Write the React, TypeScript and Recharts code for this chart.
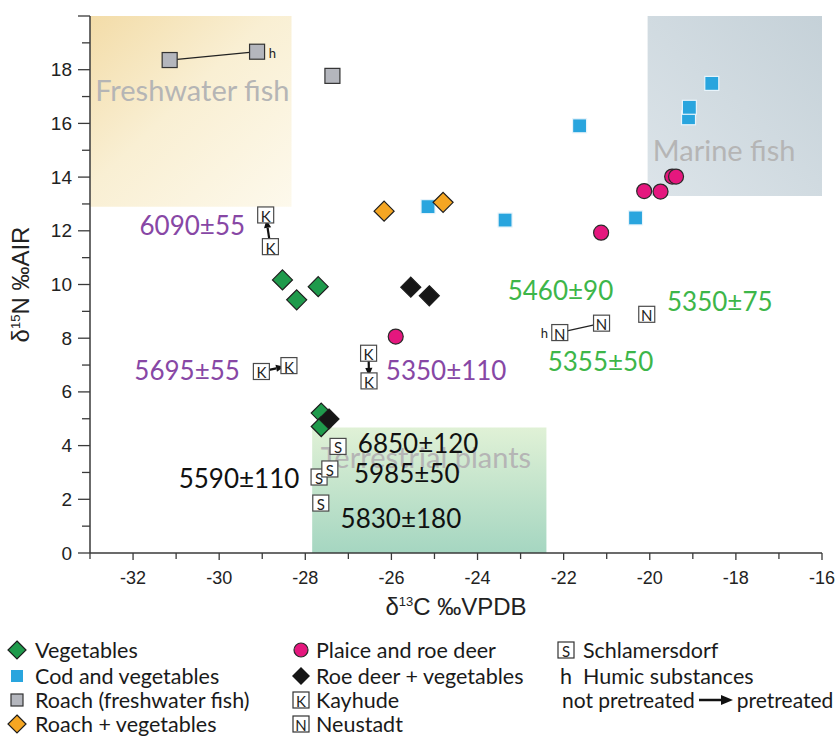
import React from "react";
import {
  ScatterChart,
  Scatter,
  XAxis,
  YAxis,
  ReferenceArea,
  ReferenceLine,
} from "recharts";

type Pt = { x: number; y: number };
type Note = { x: number; y: number; text: string };

// axis ticks (every unit, labels on even values)
const xTicks = [-33, -32, -31, -30, -29, -28, -27, -26, -25, -24, -23, -22, -21, -20, -19, -18, -17, -16];
const yTicks = [0, 1, 2, 3, 4, 5, 6, 7, 8, 9, 10, 11, 12, 13, 14, 15, 16, 17, 18, 19, 20];

// series, d13C (x) vs d15N (y)
const vegetables: Pt[] = [
  { x: -28.53, y: 10.17 },
  { x: -28.2, y: 9.43 },
  { x: -27.7, y: 9.92 },
  { x: -27.63, y: 5.21 },
  { x: -27.63, y: 4.71 },
];
const codVegetables: Pt[] = [
  { x: -25.15, y: 12.9 },
  { x: -23.36, y: 12.4 },
  { x: -21.63, y: 15.91 },
  { x: -20.33, y: 12.48 },
  { x: -19.1, y: 16.21 },
  { x: -19.08, y: 16.6 },
  { x: -18.56, y: 17.49 },
];
const roach: Pt[] = [
  { x: -31.15, y: 18.36 },
  { x: -29.12, y: 18.67 },
  { x: -27.37, y: 17.77 },
];
const roachVegetables: Pt[] = [
  { x: -26.17, y: 12.73 },
  { x: -24.8, y: 13.06 },
];
const plaiceRoeDeer: Pt[] = [
  { x: -25.9, y: 8.06 },
  { x: -21.13, y: 11.93 },
  { x: -20.13, y: 13.48 },
  { x: -19.75, y: 13.46 },
  { x: -19.48, y: 14.02 },
  { x: -19.39, y: 14.02 },
];
const roeDeerVegetables: Pt[] = [
  { x: -25.55, y: 9.9 },
  { x: -25.12, y: 9.58 },
  { x: -27.45, y: 4.99 },
];
const kayhude: Pt[] = [
  { x: -28.92, y: 12.59 },
  { x: -28.81, y: 11.41 },
  { x: -29.02, y: 6.76 },
  { x: -28.38, y: 6.98 },
  { x: -26.53, y: 7.44 },
  { x: -26.52, y: 6.41 },
];
const neustadt: Pt[] = [
  { x: -22.09, y: 8.21 },
  { x: -21.12, y: 8.56 },
  { x: -20.07, y: 8.89 },
];
const schlamersdorf: Pt[] = [
  { x: -27.68, y: 2.83 },
  { x: -27.43, y: 3.13 },
  { x: -27.24, y: 3.97 },
  { x: -27.64, y: 1.86 },
];

// connections
const humicLinks: [Pt, Pt][] = [
  [roach[0], roach[1]],
  [neustadt[0], neustadt[1]],
];
const pretreatArrows: [Pt, Pt][] = [
  [kayhude[1], kayhude[0]],
  [kayhude[2], kayhude[3]],
  [kayhude[4], kayhude[5]],
];

// shaded zones
const freshwaterX = [-33, -28.32];
const freshwaterY = [12.9, 20];
const marineX = [-20.05, -16];
const marineY = [13.3, 20];
const terrestrialX = [-27.84, -22.4];
const terrestrialY = [0, 4.67];

// text annotations (x = left edge, y = middle)
const zoneNotes: Note[] = [
  { x: -32.88, y: 17.28, text: "Freshwater fish" },
  { x: -19.93, y: 15.04, text: "Marine fish" },
  { x: -27.64, y: 3.58, text: "Terrestrial plants" },
];
const datesKayhude: Note[] = [
  { x: -31.85, y: 12.22, text: "6090±55" },
  { x: -31.97, y: 6.82, text: "5695±55" },
  { x: -26.13, y: 6.81, text: "5350±110" },
];
const datesNeustadt: Note[] = [
  { x: -23.3, y: 9.81, text: "5460±90" },
  { x: -19.6, y: 9.38, text: "5350±75" },
  { x: -22.37, y: 7.15, text: "5355±50" },
];
const datesSchlamersdorf: Note[] = [
  { x: -26.78, y: 4.08, text: "6850±120" },
  { x: -26.87, y: 2.98, text: "5985±50" },
  { x: -27.18, y: 1.31, text: "5830±180" },
  { x: -30.94, y: 2.78, text: "5590±110" },
];
const humicNotes: Note[] = [
  { x: -28.85, y: 18.62, text: "h" },
  { x: -22.53, y: 8.2, text: "h" },
];

const legendCol1 = ["Vegetables", "Cod and vegetables", "Roach (freshwater fish)", "Roach + vegetables"];
const legendCol2 = ["Plaice and roe deer", "Roe deer + vegetables", "Kayhude", "Neustadt"];
const legendCol3 = ["Schlamersdorf", "Humic substances"];

const AXIS = "#3a3a3a";
const GREEN = "#1f9a4c";
const BLUE = "#29a5de";
const GREY = "#b4b6bd";
const ORANGE = "#f5a623";
const PINK = "#e5177e";
const BLACK = "#161616";
const PURPLE = "#8747a5";
const DATE_GREEN = "#3db649";
const TEXT_FONT = "Lato, 'Open Sans', sans-serif";
const TICK_FONT = "'Liberation Sans', Arial, sans-serif";

const diamond = (fill: string, r = 10) => (p: any) => (
  <polygon
    points={`${p.cx},${p.cy - r} ${p.cx + r},${p.cy} ${p.cx},${p.cy + r} ${p.cx - r},${p.cy}`}
    fill={fill}
    stroke="#1d1d1d"
    strokeWidth={1.2}
  />
);
const square = (fill: string, size: number, stroke: string) => (p: any) => (
  <rect x={p.cx - size / 2} y={p.cy - size / 2} width={size} height={size} fill={fill} stroke={stroke} strokeWidth={1.2} />
);
const circle = (p: any) => <circle cx={p.cx} cy={p.cy} r={7.5} fill={PINK} stroke="#2a2a2a" strokeWidth={1.2} />;
const letterBox = (letter: string) => (p: any) => (
  <g>
    <rect x={p.cx - 8} y={p.cy - 8} width={16} height={16} fill="#fff" stroke="#4a4a4a" strokeWidth={1.2} />
    <text x={p.cx} y={p.cy + 1} textAnchor="middle" dominantBaseline="central" fontSize={15} fontFamily={TEXT_FONT} fill="#222">
      {letter}
    </text>
  </g>
);
const noteShape = (color: string, size: number) => (p: any) => (
  <text x={p.cx} y={p.cy} dominantBaseline="central" fontSize={size} fontFamily={TEXT_FONT} fill={color}>
    {p.payload.text}
  </text>
);

const linkShape = (trimStart: number, trimEnd: number, arrow: boolean) => (p: any) => {
  const { x1, y1, x2, y2 } = p;
  const dx = x2 - x1;
  const dy = y2 - y1;
  const len = Math.hypot(dx, dy) || 1;
  const ux = dx / len;
  const uy = dy / len;
  const sx = x1 + ux * trimStart;
  const sy = y1 + uy * trimStart;
  const ex = x2 - ux * trimEnd;
  const ey = y2 - uy * trimEnd;
  if (!arrow) {
    return <line x1={sx} y1={sy} x2={ex} y2={ey} stroke="#222" strokeWidth={1.2} />;
  }
  const hl = 8;
  const hw = 3.6;
  const bx = ex - ux * hl;
  const by = ey - uy * hl;
  return (
    <g>
      <line x1={sx} y1={sy} x2={bx} y2={by} stroke="#111" strokeWidth={2.2} />
      <polygon points={`${ex},${ey} ${bx - uy * hw},${by + ux * hw} ${bx + uy * hw},${by - ux * hw}`} fill="#111" />
    </g>
  );
};

const BottomTick = (p: any) => {
  const v = p.payload.value;
  const major = v % 2 === 0;
  return (
    <g>
      <line x1={p.x} y1={p.y} x2={p.x} y2={p.y + (major ? 7 : 6)} stroke={AXIS} strokeWidth={1.3} />
      {major && v > -33 && (
        <text x={p.x} y={p.y + 25} textAnchor="middle" dominantBaseline="central" fontSize={18} fontFamily={TICK_FONT} fill="#222">
          {v}
        </text>
      )}
    </g>
  );
};
const LeftTick = (p: any) => {
  const v = p.payload.value;
  const major = v % 2 === 0;
  return (
    <g>
      <line x1={p.x - (major ? 12 : 8)} y1={p.y} x2={p.x} y2={p.y} stroke={AXIS} strokeWidth={1.3} />
      {major && v < 20 && (
        <text x={p.x - 18} y={p.y} textAnchor="end" dominantBaseline="central" fontSize={19} fontFamily={TICK_FONT} fill="#222">
          {v}
        </text>
      )}
    </g>
  );
};
const TopTick = (p: any) => <line x1={p.x} y1={p.y} x2={p.x} y2={p.y + 9} stroke={AXIS} strokeWidth={1.3} />;
const RightTick = (p: any) => <line x1={p.x - 9} y1={p.y} x2={p.x} y2={p.y} stroke={AXIS} strokeWidth={1.3} />;

const XTitle = (p: any) => {
  const vb = p.viewBox;
  return (
    <text x={vb.x + vb.width / 2} y={vb.y + 62} textAnchor="middle" fontSize={24} fontFamily={TICK_FONT} fill="#222">
      δ<tspan fontSize={13} dy={-9}>13</tspan>
      <tspan dy={9}>C ‰VPDB</tspan>
    </text>
  );
};
const YTitle = (p: any) => {
  const vb = p.viewBox;
  const cx = 29;
  const cy = vb.y + vb.height / 2;
  return (
    <text x={cx} y={cy} transform={`rotate(-90 ${cx} ${cy})`} textAnchor="middle" fontSize={24} fontFamily={TICK_FONT} fill="#222">
      δ<tspan fontSize={13} dy={-9}>15</tspan>
      <tspan dy={9}>N ‰AIR</tspan>
    </text>
  );
};

const ROWS = [650, 676, 700, 724];
const LEGEND_TEXT: React.CSSProperties = {
  position: "absolute",
  height: 22,
  lineHeight: "22px",
  fontSize: 21.5,
  whiteSpace: "nowrap",
  color: "#1a1a1a",
};

const LegendIcon = ({ kind }: { kind: string }) => {
  const s = 20;
  const c = s / 2;
  let el: React.ReactNode = null;
  if (kind === "veg") el = <polygon points={`${c},1 ${s - 1},${c} ${c},${s - 1} 1,${c}`} fill={GREEN} stroke="#1d1d1d" strokeWidth={1.2} />;
  if (kind === "cod") el = <rect x={4} y={4} width={12} height={12} fill={BLUE} />;
  if (kind === "roach") el = <rect x={4} y={4} width={12} height={12} fill={GREY} stroke="#333" strokeWidth={1.2} />;
  if (kind === "roachveg") el = <polygon points={`${c},1 ${s - 1},${c} ${c},${s - 1} 1,${c}`} fill={ORANGE} stroke="#1d1d1d" strokeWidth={1.2} />;
  if (kind === "plaice") el = <circle cx={c} cy={c} r={7} fill={PINK} stroke="#2a2a2a" strokeWidth={1.2} />;
  if (kind === "roe") el = <polygon points={`${c},1 ${s - 1},${c} ${c},${s - 1} 1,${c}`} fill={BLACK} />;
  if (kind === "K" || kind === "N" || kind === "S")
    el = (
      <g>
        <rect x={2} y={2} width={16} height={16} fill="#fff" stroke="#333" strokeWidth={1.2} />
        <text x={c} y={c + 1} textAnchor="middle" dominantBaseline="central" fontSize={15} fontFamily={TEXT_FONT} fill="#222">
          {kind}
        </text>
      </g>
    );
  return (
    <svg width={s} height={s} style={{ display: "block" }}>
      {el}
    </svg>
  );
};

const LegendItem = ({ iconX, textX, y, kind, label }: { iconX: number; textX: number; y: number; kind: string; label: string }) => (
  <>
    <div style={{ position: "absolute", left: iconX - 10, top: y - 10 }}>
      <LegendIcon kind={kind} />
    </div>
    <div style={{ ...LEGEND_TEXT, left: textX, top: y - 11 }}>{label}</div>
  </>
);

export default function App() {
  return (
    <div style={{ position: "absolute", left: 0, top: 0, width: 838, height: 736, background: "#fff", fontFamily: TEXT_FONT, overflow: "hidden" }}>
      <ScatterChart width={838} height={640} margin={{ top: 16, right: 16, bottom: 25, left: 0 }}>
        <defs>
          <linearGradient id="freshGrad" x1="0" y1="0" x2="1" y2="1">
            <stop offset="0%" stopColor="#f3dca8" />
            <stop offset="45%" stopColor="#f9efd3" />
            <stop offset="100%" stopColor="#fdf9ec" />
          </linearGradient>
          <linearGradient id="marineGrad" x1="0" y1="1" x2="1" y2="0">
            <stop offset="0%" stopColor="#dce4e9" />
            <stop offset="100%" stopColor="#c5d1d8" />
          </linearGradient>
          <linearGradient id="plantGrad" x1="0" y1="0" x2="0" y2="1">
            <stop offset="0%" stopColor="#e0f1d6" />
            <stop offset="100%" stopColor="#a5d6c1" />
          </linearGradient>
        </defs>

        <XAxis
          xAxisId={0}
          dataKey="x"
          type="number"
          domain={[-33, -16]}
          allowDataOverflow
          ticks={xTicks}
          interval={0}
          tickSize={0}
          tickMargin={0}
          tickLine={false}
          tick={BottomTick}
          axisLine={{ stroke: AXIS, strokeWidth: 1.5 }}
          height={62}
          label={XTitle}
        />
        <XAxis
          xAxisId="top"
          orientation="top"
          type="number"
          domain={[-33, -16]}
          allowDataOverflow
          ticks={xTicks}
          interval={0}
          tickSize={0}
          tickMargin={0}
          tickLine={false}
          tick={TopTick}
          axisLine={{ stroke: AXIS, strokeWidth: 1.5 }}
          height={0}
        />
        <YAxis
          yAxisId={0}
          dataKey="y"
          type="number"
          domain={[0, 20]}
          allowDataOverflow
          ticks={yTicks}
          interval={0}
          tickSize={0}
          tickMargin={0}
          tickLine={false}
          tick={LeftTick}
          axisLine={{ stroke: AXIS, strokeWidth: 1.5 }}
          width={90}
          label={YTitle}
        />
        <YAxis
          yAxisId="right"
          orientation="right"
          type="number"
          domain={[0, 20]}
          allowDataOverflow
          ticks={yTicks}
          interval={0}
          tickSize={0}
          tickMargin={0}
          tickLine={false}
          tick={RightTick}
          axisLine={{ stroke: AXIS, strokeWidth: 1.5 }}
          width={0}
        />

        <ReferenceArea x1={freshwaterX[0]} x2={freshwaterX[1]} y1={freshwaterY[0]} y2={freshwaterY[1]} fill="url(#freshGrad)" fillOpacity={1} stroke="none" />
        <ReferenceArea x1={marineX[0]} x2={marineX[1]} y1={marineY[0]} y2={marineY[1]} fill="url(#marineGrad)" fillOpacity={1} stroke="none" />
        <ReferenceArea x1={terrestrialX[0]} x2={terrestrialX[1]} y1={terrestrialY[0]} y2={terrestrialY[1]} fill="url(#plantGrad)" fillOpacity={1} stroke="none" />

        <Scatter data={zoneNotes} shape={noteShape("#b5b5b5", 29)} isAnimationActive={false} />

        {humicLinks.map((seg, i) => (
          <ReferenceLine key={`h${i}`} segment={seg} shape={linkShape(7.5, 7.5, false)} />
        ))}

        <Scatter data={roach} shape={square(GREY, 15, "#333")} isAnimationActive={false} />
        <Scatter data={codVegetables} shape={square(BLUE, 14, "#e8f4fb")} isAnimationActive={false} />
        <Scatter data={roachVegetables} shape={diamond(ORANGE)} isAnimationActive={false} />
        <Scatter data={vegetables} shape={diamond(GREEN)} isAnimationActive={false} />
        <Scatter data={roeDeerVegetables} shape={diamond(BLACK)} isAnimationActive={false} />
        <Scatter data={plaiceRoeDeer} shape={circle} isAnimationActive={false} />
        <Scatter data={kayhude} shape={letterBox("K")} isAnimationActive={false} />
        <Scatter data={neustadt} shape={letterBox("N")} isAnimationActive={false} />
        <Scatter data={schlamersdorf} shape={letterBox("S")} isAnimationActive={false} />

        {pretreatArrows.map((seg, i) => (
          <ReferenceLine key={`a${i}`} segment={seg} shape={linkShape(3, 5, true)} />
        ))}

        <Scatter data={datesKayhude} shape={noteShape(PURPLE, 26)} isAnimationActive={false} />
        <Scatter data={datesNeustadt} shape={noteShape(DATE_GREEN, 26)} isAnimationActive={false} />
        <Scatter data={datesSchlamersdorf} shape={noteShape("#111", 26)} isAnimationActive={false} />
        <Scatter data={humicNotes} shape={noteShape("#222", 13)} isAnimationActive={false} />
      </ScatterChart>

      {legendCol1.map((label, i) => (
        <LegendItem key={label} iconX={17} textX={35} y={ROWS[i]} kind={["veg", "cod", "roach", "roachveg"][i]} label={label} />
      ))}
      {legendCol2.map((label, i) => (
        <LegendItem key={label} iconX={301} textX={316} y={ROWS[i]} kind={["plaice", "roe", "K", "N"][i]} label={label} />
      ))}
      <LegendItem iconX={566} textX={583} y={ROWS[0]} kind="S" label={legendCol3[0]} />
      <div style={{ ...LEGEND_TEXT, left: 560, top: ROWS[1] - 11 }}>h</div>
      <div style={{ ...LEGEND_TEXT, left: 583, top: ROWS[1] - 11 }}>{legendCol3[1]}</div>
      <div style={{ ...LEGEND_TEXT, left: 562, top: ROWS[2] - 11, fontSize: 21, display: "flex", alignItems: "center" }}>
        <span>not pretreated</span>
        <svg width={38} height={14} style={{ margin: "0 2px" }}>
          <line x1={2} y1={7} x2={26} y2={7} stroke="#111" strokeWidth={2.5} />
          <polygon points="36,7 24,2 24,12" fill="#111" />
        </svg>
        <span>pretreated</span>
      </div>
    </div>
  );
}
